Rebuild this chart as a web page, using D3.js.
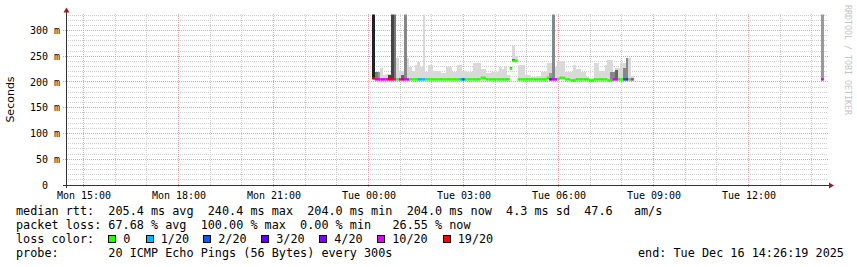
<!DOCTYPE html>
<html>
<head>
<meta charset="utf-8">
<script src="https://cdn.jsdelivr.net/npm/d3@7"></script>
<style>
body { margin: 0; background: #fff; }
svg { display: block; }
text { font-family: "DejaVu Sans Mono", monospace; fill: #000; }
</style>
</head>
<body>
<script>
// smokeping style latency graph, last 24h

var tStart = new Date(2025, 11, 15, 14, 26, 19),
    tEnd = new Date(2025, 11, 16, 14, 26, 19);

// rrd steps (300s), first one at Tue 00:07:30, last sample much later
var firstStep = new Date(2025, 11, 16, 0, 7, 30);
var stepSec = 300;
var stepIdx = d3.range(99).concat([170]);

// median rtt in ms per step
var median = [
  207,205,205,205,205,205,205,205,205,205,
  205,205,205,205,205,205,205,205,205,205,
  205,205,205,205,205,205,205,205,205,205,
  205,205,205,205,205,205,205,205,205,205,
  205,208,208,205,205,205,205,205,205,205,
  205,205,226,241,241,205,205,205,205,205,
  205,205,205,205,205,205,208,205,205,205,
  206,208,208,205,205,203,203,205,205,205,
  205,205,203,203,205,205,205,205,205,203,
  203,205,205,205,205,205,205,205,205,
  205];

// lost pings out of 20
var loss = [
  19,10,10,10,10,10,19,19,10,0,
  10,19,10,10,0,0,0,1,1,1,
  0,0,0,0,0,0,0,0,0,0,
  0,0,0,1,2,0,0,0,0,0,
  0,0,0,0,0,0,0,0,0,0,
  0,0,0,0,0,0,0,0,0,0,
  0,0,0,0,0,0,0,4,10,10,
  0,0,0,0,0,0,0,0,0,0,
  0,0,0,0,0,0,0,0,0,0,
  0,10,10,0,0,2,4,0,10,
  10];

// top of the light smoke (ms), 0 = none
var smokeTop = [
  0,0,0,228,214,216,216,0,0,247,
  222,222,0,247,230,222,233,239,230,340,
  220,233,233,222,222,222,217,217,230,230,
  219,219,233,233,222,222,219,219,237,237,
  237,226,226,217,217,219,219,219,230,226,
  230,213,230,270,250,233,233,233,213,213,
  209,209,211,211,219,219,237,237,0,230,
  240,240,240,219,219,219,233,226,226,219,
  219,209,208,208,237,237,222,222,233,243,
  243,220,227,227,237,237,247,247,211,
  0];

// darker core of the smoke (ms) and how dark it is (0..1)
var coreTop = [
  340,220,220,0,0,0,214,340,340,0,
  0,213,340,0,0,0,0,0,0,0,
  0,0,0,0,0,0,0,0,0,0,
  0,0,0,0,0,0,0,0,0,0,
  0,0,0,0,0,0,0,0,0,0,
  0,0,230,245,241,0,0,0,0,0,
  0,0,0,0,0,0,0,218,340,0,
  0,0,0,0,0,0,0,0,0,0,
  0,0,0,0,0,0,0,0,0,0,
  220,220,223,0,0,227,247,0,0,
  340];
var coreLevel = [
  0.87,0.53,0.40,0,0,0,0.73,0.73,0.53,0,
  0,0.60,0.47,0,0,0,0,0,0,0,
  0,0,0,0,0,0,0,0,0,0,
  0,0,0,0,0,0,0,0,0,0,
  0,0,0,0,0,0,0,0,0,0,
  0,0,0.80,0.67,0.87,0,0,0,0,0,
  0,0,0,0,0,0,0,0.40,0.47,0,
  0,0,0,0,0,0,0,0,0,0,
  0,0,0,0,0,0,0,0,0,0,
  0.47,0.47,0.60,0,0,0.47,0.47,0,0,
  0.40];

// loss colour legend
var lossSteps = [0, 1, 2, 3, 4, 10, 19];
var lossLabels = ["0", "1/20", "2/20", "3/20", "4/20", "10/20", "19/20"];
var lossColors = ["#26ff00", "#00b8ff", "#0059ff", "#5e00ff", "#7e00ff", "#dd00ff", "#ff0000"];

var yTicks = [0, 50, 100, 150, 200, 250, 300];

var legendRows = [
  "median rtt:  205.4 ms avg  240.4 ms max  204.0 ms min  204.0 ms now  4.3 ms sd  47.6   am/s",
  "packet loss: 67.68 % avg  100.00 % max  0.00 % min   26.55 % now",
  "loss color:",
  "probe:       20 ICMP Echo Pings (56 Bytes) every 300s"
];

//---------setup plot-----------------------//
var width = 857, height = 267;
var plotL = 65.7, plotR = 825.7, plotT = 14.5, plotB = 185;

var x = d3.scaleTime().domain([tStart, tEnd]).range([plotL, plotR]);
var y = d3.scaleLinear().domain([0, 331]).range([plotB, plotT]);

var svg = d3.select("body").append("svg")
    .attr("width", width)
    .attr("height", height);

svg.append("rect").attr("width", width).attr("height", height).attr("fill", "#fff");

svg.append("defs").append("clipPath").attr("id", "plotclip")
  .append("rect")
    .attr("x", plotL).attr("y", plotT)
    .attr("width", plotR - plotL).attr("height", plotB - plotT);

// gridlines
var grid = svg.append("g").attr("shape-rendering", "crispEdges")
    .attr("stroke-dasharray", "1,1");

var hours = d3.timeHour.range(tStart, tEnd);
var minorV = hours.filter(function(d) { return d.getHours() % 3 != 0; });
var majorV = hours.filter(function(d) { return d.getHours() % 3 == 0; });
var minorH = d3.range(10, 331, 10).filter(function(d) { return d % 50 != 0; });
var majorH = yTicks.filter(function(d) { return d > 0; });

grid.selectAll(".minh").data(minorH).enter().append("line")
    .attr("x1", 66).attr("x2", 828)
    .attr("y1", function(d) { return y(d); }).attr("y2", function(d) { return y(d); })
    .attr("stroke", "#cdcdcd");
grid.selectAll(".minv").data(minorV).enter().append("line")
    .attr("x1", function(d) { return x(d); }).attr("x2", function(d) { return x(d); })
    .attr("y1", 13.5).attr("y2", plotB)
    .attr("stroke", "#cdcdcd");
grid.selectAll(".majh").data(majorH).enter().append("line")
    .attr("x1", 63).attr("x2", 828)
    .attr("y1", function(d) { return y(d); }).attr("y2", function(d) { return y(d); })
    .attr("stroke", "#e3a0a0");
grid.selectAll(".majv").data(majorV).enter().append("line")
    .attr("x1", function(d) { return x(d); }).attr("x2", function(d) { return x(d); })
    .attr("y1", 13.5).attr("y2", 188)
    .attr("stroke", "#e3a0a0");

//-------------data----------//
var steps = stepIdx.map(function(s, i) {
  var t0 = new Date(+firstStep + s * stepSec * 1000);
  var t1 = new Date(+t0 + stepSec * 1000);
  return {t0: t0, t1: t1, med: median[i], loss: loss[i],
          smoke: smokeTop[i], core: coreTop[i], level: coreLevel[i]};
});

function lossColor(l) {
  var c = lossColors[0];
  lossSteps.forEach(function(s, k) { if (l >= s) c = lossColors[k]; });
  return c;
}
var shade = d3.interpolateRgb("#ffffff", "#000000");

var data = svg.append("g").attr("clip-path", "url(#plotclip)")
    .attr("shape-rendering", "crispEdges");

// light smoke
data.selectAll(".smoke").data(steps.filter(function(d) { return d.smoke > 0; }))
  .enter().append("rect")
    .attr("x", function(d) { return x(d.t0); })
    .attr("width", function(d) { return x(d.t1) - x(d.t0); })
    .attr("y", function(d) { return y(d.smoke); })
    .attr("height", function(d) { return y(d.med - 1) - y(d.smoke); })
    .attr("fill", "#d9d9d9");

// darker core
data.selectAll(".core").data(steps.filter(function(d) { return d.core > 0; }))
  .enter().append("rect")
    .attr("x", function(d) { return x(d.t0); })
    .attr("width", function(d) { return x(d.t1) - x(d.t0); })
    .attr("y", function(d) { return y(d.core); })
    .attr("height", function(d) { return y(d.med - 1) - y(d.core); })
    .attr("fill", function(d) { return shade(d.level); });

// median line coloured by loss
svg.append("g").selectAll(".med").data(steps)
  .enter().append("line")
    .attr("x1", function(d) { return x(d.t0); })
    .attr("x2", function(d) { return x(d.t1); })
    .attr("y1", function(d) { return y(d.med); })
    .attr("y2", function(d) { return y(d.med); })
    .attr("stroke", function(d) { return lossColor(d.loss); })
    .attr("stroke-width", 2.6);

//-------------axes----------//
var axisCol = "#333", arrowCol = "#9a1f1f";

svg.append("line").attr("x1", 63).attr("x2", 830).attr("y1", plotB + 0.5).attr("y2", plotB + 0.5)
    .attr("stroke", axisCol).attr("shape-rendering", "crispEdges");
svg.append("line").attr("x1", 66.5).attr("x2", 66.5).attr("y1", 188).attr("y2", 11)
    .attr("stroke", axisCol).attr("shape-rendering", "crispEdges");
svg.append("path").attr("d", "M829,182.5L834,185.5L829,188.5Z").attr("fill", arrowCol);
svg.append("path").attr("d", "M63.5,12.5L66.5,7.5L69.5,12.5Z").attr("fill", arrowCol);

// x labels
var xAxis = d3.axisBottom(x)
    .tickValues(majorV)
    .tickSize(0)
    .tickPadding(6.4)
    .tickFormat(d3.timeFormat("%a %H:%M"));
var gx = svg.append("g").attr("transform", "translate(0," + plotB + ")").call(xAxis);
gx.select(".domain").remove();
gx.selectAll("text").style("font-size", "10px").style("font-family", "DejaVu Sans Mono").attr("fill", "#000");

// y labels
var yAxis = d3.axisLeft(y)
    .tickValues(yTicks)
    .tickSize(0)
    .tickPadding(6.5)
    .tickFormat(function(d) { return d ? d + " m" : "0  "; });
var gy = svg.append("g").attr("transform", "translate(66.5,0)").call(yAxis);
gy.select(".domain").remove();
gy.selectAll("text").style("font-size", "10px").style("font-family", "DejaVu Sans Mono")
    .style("white-space", "pre").attr("fill", "#000");

// y title
svg.append("text")
    .attr("transform", "translate(14,99.5) rotate(-90)")
    .attr("text-anchor", "middle")
    .style("font-family", "DejaVu Sans")
    .style("font-size", "11px")
    .text("Seconds");

// watermark
svg.append("text")
    .attr("transform", "translate(844.5,5) rotate(90)")
    .style("font-size", "8.3px")
    .style("fill", "#c4c4c4")
    .text("RRDTOOL / TOBI OETIKER");

//-------------legend----------//
var rowY = [215, 229, 243, 257];
svg.selectAll(".leg").data(legendRows).enter().append("text")
    .attr("x", 16)
    .attr("y", function(d, i) { return rowY[i]; })
    .style("font-size", "11.8px")
    .style("white-space", "pre")
    .text(function(d) { return d; });

var boxX = [108.5, 146, 203.5, 261.5, 319.5, 377.5, 443];
var lg = svg.selectAll(".lbox").data(lossLabels).enter().append("g");
lg.append("rect")
    .attr("x", function(d, i) { return boxX[i]; })
    .attr("y", 235.5)
    .attr("width", 7).attr("height", 7)
    .attr("fill", function(d, i) { return lossColors[i]; })
    .attr("stroke", "#000")
    .attr("shape-rendering", "crispEdges");
lg.append("text")
    .attr("x", function(d, i) { return boxX[i] + 14.7; })
    .attr("y", rowY[2])
    .style("font-size", "11.8px")
    .text(function(d) { return d; });

svg.append("text")
    .attr("x", 638)
    .attr("y", rowY[3])
    .style("font-size", "11.8px")
    .text("end: " + d3.timeFormat("%a %b %d %H:%M:%S %Y")(tEnd));
</script>
</body>
</html>
